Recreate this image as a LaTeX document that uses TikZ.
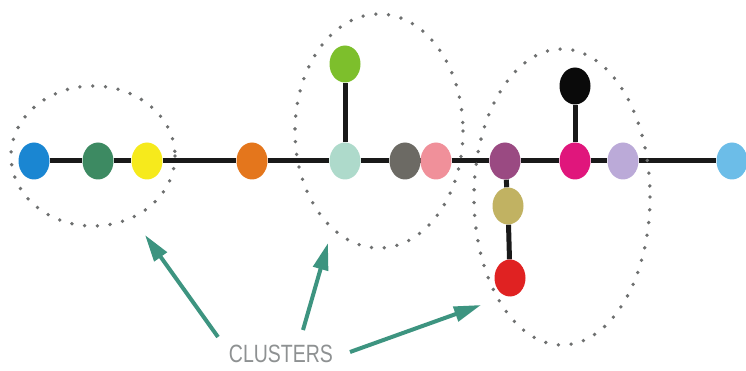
\documentclass[tikz,border=0pt]{standalone}
\usepackage{fontspec}
\setsansfont{Liberation Sans}
\usetikzlibrary{arrows.meta,backgrounds,shapes.geometric}

\definecolor{cBlue}{HTML}{1A86D2}
\definecolor{cForest}{HTML}{3D8A62}
\definecolor{cYellow}{HTML}{F6EA1C}
\definecolor{cOrange}{HTML}{E4761C}
\definecolor{cMint}{HTML}{AEDACB}
\definecolor{cLime}{HTML}{7DBF2C}
\definecolor{cSlate}{HTML}{6C6A64}
\definecolor{cRose}{HTML}{F0909A}
\definecolor{cPlum}{HTML}{9A4A82}
\definecolor{cMagenta}{HTML}{E0167C}
\definecolor{cBlack}{HTML}{0A0A0A}
\definecolor{cLavender}{HTML}{BBAAD8}
\definecolor{cSky}{HTML}{6CBDE8}
\definecolor{cOlive}{HTML}{C1B262}
\definecolor{cRed}{HTML}{E02222}
\definecolor{cTeal}{HTML}{3D9480}
\definecolor{cDots}{HTML}{6E7070}
\definecolor{cLabel}{HTML}{8E9192}

\tikzset{
  dot/.style={ellipse, minimum width=31pt, minimum height=37pt, inner sep=0pt, fill=#1},
  link/.style={line width=5pt, black!90},
  ring/.style={cDots, line width=3.8pt, line cap=round, dash pattern=on 0pt off 12.8pt},
  pointer/.style={cTeal, line width=4pt, -{Triangle[length=27pt,width=15pt]}},
}

\begin{document}
\begin{tikzpicture}[x=1pt,y=-1pt]
\useasboundingbox (0,0) rectangle (746,371);

% vertices of the tree (the spine lies on one horizontal line)
\node[dot=cBlue]     (n1)  at (34,161)  {};
\node[dot=cForest]   (n2)  at (98,161)  {};
\node[dot=cYellow]   (n3)  at (147,161) {};
\node[dot=cOrange]   (n4)  at (252,161) {};
\node[dot=cMint]     (n5)  at (345,161) {};
\node[dot=cLime]     (n5a) at (345,64)  {};
\node[dot=cSlate]    (n6)  at (405,161) {};
\node[dot=cRose]     (n7)  at (436,161) {};
\node[dot=cPlum]     (n8)  at (505,161) {};
\node[dot=cOlive]    (n8a) at (508,206) {};
\node[dot=cRed]      (n8b) at (510,278) {};
\node[dot=cMagenta]  (n9)  at (575,161) {};
\node[dot=cBlack]    (n9a) at (575,86)  {};
\node[dot=cLavender] (n10) at (623,161) {};
\node[dot=cSky]      (n11) at (732,161) {};

% edges behind the vertices
\begin{scope}[on background layer]
  \draw[link] (n1) -- (n2) -- (n3) -- (n4) -- (n5) -- (n6) -- (n7) -- (n8)
              -- (n9) -- (n10) -- (n11);
  \draw[link] (n5) -- (n5a);
  \draw[link] (n9) -- (n9a);
  \draw[link] (n8) -- (n8a) -- (n8b);
\end{scope}

% dotted cluster outlines
\coordinate (c1) at (93,156);
\coordinate (c2) at (379,131);
\coordinate (c3) at (562,197);
\draw[ring] (c1) ellipse [x radius=82, y radius=70];
\draw[ring] (c2) ellipse [x radius=84, y radius=117];
\draw[ring] (c3) ellipse [x radius=88, y radius=148];

% label and pointers
\node[text=cLabel, font=\sffamily\fontsize{25}{25}\selectfont, xscale=0.78, inner sep=0pt]
  (lab) at (281,354) {CLUSTERS};
\coordinate (t1) at (145,235);
\coordinate (t2) at (328,243);
\coordinate (t3) at (481,305);
\coordinate (s1) at (218,337);
\coordinate (s2) at (303,330);
\coordinate (s3) at (350,352);
\draw[pointer] (s1) -- (t1);
\draw[pointer] (s2) -- (t2);
\draw[pointer] (s3) -- (t3);
\end{tikzpicture}
\end{document}
